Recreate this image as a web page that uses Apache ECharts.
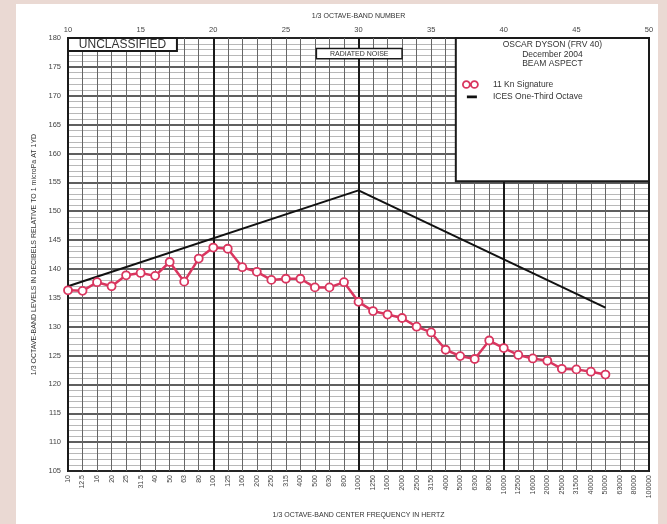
<!DOCTYPE html>
<html>
<head>
<meta charset="utf-8">
<script src="https://cdn.jsdelivr.net/npm/echarts@6/dist/echarts.min.js"></script>
<style>
  html, body { margin: 0; padding: 0; background: #ead9d3; }
  #chart { width: 667px; height: 524px; }
</style>
</head>
<body>
<div id="chart"></div>
<script>
  // 1/3 octave band numbers of the measured points
  const bands = [10, 11, 12, 13, 14, 15, 16, 17, 18, 19,
                 20, 21, 22, 23, 24, 25, 26, 27, 28, 29,
                 30, 31, 32, 33, 34, 35, 36, 37, 38, 39,
                 40, 41, 42, 43, 44, 45, 46, 47];
  // 11 Kn signature levels, dB re 1 uPa at 1 yd
  const signature = [136.3, 136.2, 137.7, 137.0, 138.9, 139.3, 138.8, 141.2, 137.8, 141.8,
                     143.7, 143.5, 140.3, 139.5, 138.1, 138.3, 138.3, 136.8, 136.8, 137.7,
                     134.3, 132.7, 132.1, 131.5, 130.0, 129.0, 126.0, 124.9, 124.4, 127.6,
                     126.3, 125.1, 124.5, 124.1, 122.7, 122.6, 122.2, 121.7];
  // ICES one-third octave limit
  const icesBands = [10, 30, 47];
  const icesLevels = [137.0, 153.6, 133.3];
  // bottom tick labels: centre frequency of band 10..50
  const freqLabels = ['10', '12.5', '16', '20', '25', '31.5', '40', '50', '63', '80',
                      '100', '125', '160', '200', '250', '315', '400', '500', '630', '800',
                      '1000', '1250', '1600', '2000', '2500', '3150', '4000', '5000', '6300', '8000',
                      '10000', '12500', '16000', '20000', '25000', '31500', '40000', '50000', '63000', '80000',
                      '100000'];

  const chart = echarts.init(document.getElementById('chart'));
  const labelColor = '#444';
  const red = '#d9365f';
  const font = 'Liberation Sans, Arial, sans-serif';

  // legend icons: two open rings joined by a short line / a short thick dash
  const ringsIcon = 'path://M0.5,3.5A3,3 0 1,0 6.5,3.5A3,3 0 1,0 0.5,3.5Z' +
                    'M6.5,3.5L7.5,3.5' +
                    'M7.5,3.5A3,3 0 1,0 13.5,3.5A3,3 0 1,0 7.5,3.5Z';
  const dashIcon = 'path://M0,0L0.01,0M4,2.5H14V5.2H4ZM15,7L14.99,7';

  const option = {
    animation: false,
    textStyle: { fontFamily: font },
    graphic: [
      {
        type: 'rect', z: -10, silent: true,
        shape: { x: 16, y: 4, width: 642, height: 520 },
        style: { fill: '#ffffff' }
      }
    ],
    legend: {
      orient: 'vertical',
      left: 462,
      top: 80,
      padding: 0,
      itemGap: 3,
      itemWidth: 15,
      itemHeight: 7,
      textStyle: { fontSize: 8.5, color: '#333', padding: [0, 0, 0, 10] },
      data: [
        { name: '11 Kn Signature', icon: ringsIcon,
          itemStyle: { color: '#fff', borderColor: red, borderWidth: 1.8 } },
        { name: 'ICES One-Third Octave', icon: dashIcon,
          itemStyle: { color: '#111', borderWidth: 0 } }
      ]
    },
    grid: {
      left: 68, right: 18, top: 38, bottom: 52,
      show: true,
      borderColor: '#1a1a1a',
      borderWidth: 2
    },
    xAxis: [
      {
        type: 'value', position: 'bottom',
        min: 10, max: 50, interval: 1,
        name: '1/3 OCTAVE-BAND CENTER FREQUENCY IN HERTZ',
        nameLocation: 'middle', nameGap: 41,
        nameTextStyle: { fontSize: 7, color: '#333' },
        axisLine: { show: false },
        axisTick: { show: false },
        axisLabel: {
          rotate: 90, margin: 4, fontSize: 7, color: labelColor,
          formatter: (v) => freqLabels[v - 10]
        },
        splitLine: { show: true, lineStyle: { color: '#666', width: 1 } }
      },
      {
        type: 'value', position: 'top',
        min: 10, max: 50, interval: 5,
        name: '1/3 OCTAVE-BAND NUMBER',
        nameLocation: 'middle', nameGap: 18,
        nameTextStyle: { fontSize: 7, color: '#333' },
        axisLine: { show: false },
        axisTick: { show: false },
        axisLabel: { margin: 4, fontSize: 7.5, color: labelColor },
        splitLine: { show: false }
      },
      {
        type: 'value', position: 'top',
        min: 10, max: 50, interval: 10,
        axisLine: { show: false },
        axisTick: { show: false },
        axisLabel: { show: false },
        splitLine: { show: true, lineStyle: { color: '#1a1a1a', width: 2 } }
      }
    ],
    yAxis: {
      type: 'value',
      min: 105, max: 180, interval: 5,
      name: '1/3 OCTAVE-BAND LEVELS IN DECIBELS RELATIVE TO 1 microPa AT 1YD',
      nameLocation: 'middle', nameGap: 28,
      nameTextStyle: { fontSize: 7, color: '#333' },
      axisLine: { show: false },
      axisTick: { show: false },
      axisLabel: { margin: 7, fontSize: 7.5, color: labelColor },
      splitLine: { show: true, lineStyle: { color: '#2a2a2a', width: 1.6 } },
      minorTick: { show: false, splitNumber: 5 },
      minorSplitLine: { show: true, lineStyle: { color: '#b8b8b8', width: 1 } }
    },
    series: [
      {
        name: 'ICES One-Third Octave',
        type: 'line',
        xAxisIndex: 0,
        symbol: 'none',
        lineStyle: { color: '#111', width: 2 },
        itemStyle: { color: '#111' },
        data: icesBands.map((b, i) => [b, icesLevels[i]]),
        markArea: {
          silent: true,
          data: [
            [
              {
                coord: [36.7, 155.2],
                itemStyle: { color: '#fff', borderColor: '#1a1a1a', borderWidth: 2 },
                label: {
                  show: true, position: 'insideTop', distance: 3,
                  fontSize: 8.5, lineHeight: 9.5, color: '#333',
                  formatter: 'OSCAR DYSON (FRV 40)\nDecember 2004\nBEAM ASPECT'
                }
              },
              { coord: [50, 180] }
            ],
            [
              {
                coord: [10, 177.75],
                itemStyle: { color: '#fff', borderColor: '#1a1a1a', borderWidth: 2 },
                label: {
                  show: true, position: 'inside',
                  fontSize: 12, color: '#333',
                  formatter: 'UNCLASSIFIED'
                }
              },
              { coord: [17.5, 180] }
            ],
            [
              {
                coord: [27.1, 176.4],
                itemStyle: { color: '#fff', borderColor: '#1a1a1a', borderWidth: 1.5 },
                label: {
                  show: true, position: 'inside',
                  fontSize: 7, color: '#333',
                  formatter: 'RADIATED NOISE'
                }
              },
              { coord: [33.0, 178.2] }
            ]
          ]
        }
      },
      {
        name: '11 Kn Signature',
        type: 'line',
        xAxisIndex: 0,
        symbol: 'circle',
        symbolSize: 8,
        lineStyle: { color: red, width: 2.5 },
        itemStyle: { color: '#fff', borderColor: red, borderWidth: 1.8 },
        data: bands.map((b, i) => [b, signature[i]])
      }
    ]
  };

  chart.setOption(option);
</script>
</body>
</html>
